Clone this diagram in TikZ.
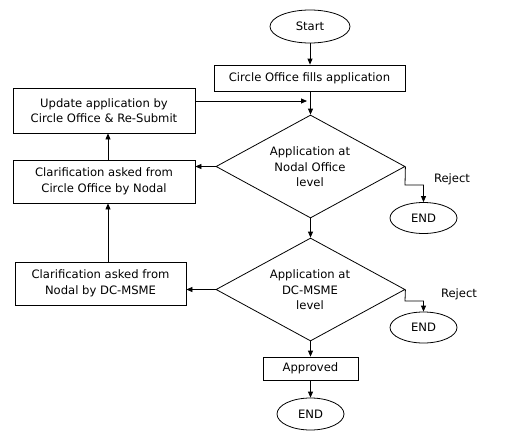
\documentclass[tikz,border=0pt]{standalone}
\usepackage{fontspec}
\setmainfont{DejaVu Sans}
\usetikzlibrary{shapes.geometric,arrows.meta}
\begin{document}
\begin{tikzpicture}[x=1pt,y=-1pt,
  every node/.style={font=\fontsize{11.6}{15.5}\selectfont, line width=0.8pt},
  boxnode/.style={draw, rectangle, inner sep=0pt, align=center},
  termnode/.style={draw, ellipse, inner sep=0pt},
  decnode/.style={draw, diamond, aspect=1.835, minimum width=189pt, minimum height=103pt, inner sep=0pt},
  plain/.style={inner sep=0pt},
  conn/.style={line width=0.8pt, -{Triangle[length=6pt,width=5pt]}}]
\useasboundingbox (0,0) rectangle (532,442);
\node[termnode, minimum width=80pt, minimum height=33pt] (start) at (310,26.5) {Start};
\node[boxnode, minimum width=191pt, minimum height=26pt] (fill) at (309.5,78) {Circle Office fills application};
\node[boxnode, minimum width=182pt, minimum height=45pt] (upd) at (104,110.5) {Update application by\\Circle Office \& Re-Submit};
\node[decnode] (d1) at (310.5,166.5) {};
\node[plain, align=center] (d1t) at (310,167) {Application at\\Nodal Office\\level};
\node[boxnode, minimum width=182pt, minimum height=43pt] (clar1) at (104,181.5) {Clarification asked from\\Circle Office by Nodal};
\node[termnode, minimum width=67pt, minimum height=31pt] (end1) at (423.5,218) {END};
\node[plain] (rej1) at (452,179) {Reject};
\node[decnode] (d2) at (310.5,289.5) {};
\node[plain, align=center] (d2t) at (310,290) {Application at\\DC-MSME\\level};
\node[boxnode, minimum width=171pt, minimum height=43pt] (clar2) at (100.5,283.5) {Clarification asked from\\Nodal by DC-MSME};
\node[termnode, minimum width=67pt, minimum height=31pt] (end2) at (423.5,327.5) {END};
\node[plain] (rej2) at (459,294) {Reject};
\node[boxnode, minimum width=95pt, minimum height=23pt] (appr) at (310.5,368.5) {Approved};
\node[termnode, minimum width=67pt, minimum height=32pt] (end3) at (310.5,414) {END};
% connectors
\draw[conn] (start.south) -- (start.south |- fill.north);
\draw[conn] (fill.south -| d1.north) -- (d1.north);
\draw[conn] (upd.east |- 0,101) -- (307,101);
\draw[conn] (d1.west) -- (d1.west -| clar1.east);
\draw[conn] (clar1.north -| 108,0) -- (108,0 |- upd.south);
\draw[conn] (d1.east) -- (405,185) -| (end1.north);
\draw[conn] (d1.south) -- (d2.north);
\draw[conn] (d2.west) -- (d2.west -| clar2.east);
\draw[conn] (108,0 |- clar2.north) -- (108,0 |- clar1.south);
\draw[conn] (d2.east) -- (405,301) -| (end2.north);
\draw[conn] (d2.south) -- (appr.north);
\draw[conn] (appr.south) -- (end3.north);
\end{tikzpicture}
\end{document}
